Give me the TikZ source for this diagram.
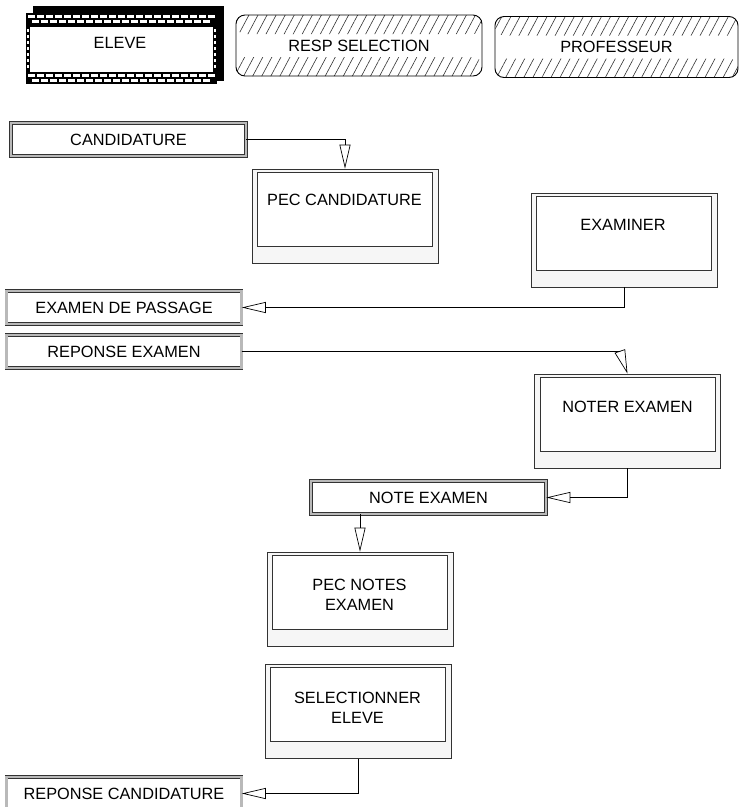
\documentclass[tikz,border=0pt]{standalone}
\usepackage{fontspec}
\setmainfont{Liberation Sans}
\usetikzlibrary{arrows.meta,patterns.meta}

\tikzset{
  flowbox/.style={rectangle, draw=black!80, double=gray!55, double distance=2.4pt,
    line width=0.7pt, fill=white, minimum width=235, minimum height=33, inner sep=0pt},
  procbox/.style={rectangle, draw=black!80, fill=gray!7, line width=0.6pt,
    minimum width=186, minimum height=94, inner sep=0pt},
  hatchband/.style={pattern={Lines[angle=62,distance=8pt,line width=0.6pt]}, pattern color=black!80},
  actorbox/.style={rectangle, rounded corners=9pt, draw=black, line width=0.9pt,
    minimum height=61, inner sep=0pt,
    path picture={
      \fill[hatchband] (path picture bounding box.north west) rectangle ([yshift=-19pt]path picture bounding box.north east);
      \fill[hatchband] ([yshift=19pt]path picture bounding box.south west) rectangle (path picture bounding box.south east);
    }},
  flowarr/.style={-{Triangle[open,length=24pt,width=11pt]}, line width=0.7pt},
}

\begin{document}
\begin{tikzpicture}[x=1pt,y=-1pt,font=\fontsize{16.3}{20}\selectfont]
\useasboundingbox (0,0) rectangle (739,807);

% acteur ELEVE (cadre en briques)
\fill (33,6) rectangle (224,81);
\fill (26,13) rectangle (217,84);
\fill[white] (30,27) rectangle (213,72);
\foreach \x in {28,37,...,208} {
  \fill[white] (\x,15) rectangle +(7,3);
  \fill[white] (\x,74) rectangle +(7,3);
}
\foreach \x in {32,41,...,203} {
  \fill[white] (\x,20) rectangle +(7,3);
  \fill[white] (\x,79) rectangle +(7,3);
}
\foreach \y in {29,35,...,65} {
  \fill[white] (27,\y) rectangle +(2,3);
  \fill[white] (214,\y) rectangle +(2,3);
}
\node (eleve) at (120,43) {ELEVE};

% autres acteurs
\node[actorbox, minimum width=246] (resp) at (359,45.5) {RESP SELECTION};
\node[actorbox, minimum width=243] (prof) at (616.5,47) {PROFESSEUR};

% flux
\node[flowbox] (cand) at (128.5,139.5) {CANDIDATURE};
\node[flowbox] (passage) at (124,307.5) {EXAMEN DE PASSAGE};
\node[flowbox] (repex) at (124,351.5) {REPONSE EXAMEN};
\node[flowbox] (note) at (428.5,497.5) {NOTE EXAMEN};
\node[flowbox] (repc) at (124,793.5) {REPONSE CANDIDATURE};

% traitements
\node[procbox] (pecc) at (345,216) {};
\node[procbox] (exmr) at (624,240) {};
\node[procbox] (noter) at (627.5,421) {};
\node[procbox] (pecn) at (360,599) {};
\node[procbox] (sel) at (358,711.5) {};
\foreach \n in {pecc,exmr,noter,pecn,sel}
  \draw[fill=white, draw=black!80, line width=0.6pt]
    ([shift={(6pt,-3.5pt)}]\n.north west) rectangle ([shift={(-6pt,17.5pt)}]\n.south east);

\node (pecc-t) at (344.5,200) {PEC CANDIDATURE};
\node (exmr-t) at (623,225) {EXAMINER};
\node (noter-t) at (627.5,406.5) {NOTER EXAMEN};
\node[align=center] (pecn-t) at (359.5,595) {PEC NOTES\\EXAMEN};
\node[align=center] (sel-t) at (357.5,707.5) {SELECTIONNER\\ELEVE};

% liaisons
\coordinate (bend) at (620,351.5);
\draw[flowarr] (cand.east) -| (pecc.north);
\draw[flowarr] (exmr.south) |- (passage.east);
\draw[flowarr] (repex.east) -- (bend) -- (noter.north);
\draw[flowarr] (noter.south) |- (note.east);
\draw[flowarr] (pecn.north |- note.south) -- (pecn.north);
\draw[flowarr] (sel.south) |- (repc.east);
\end{tikzpicture}
\end{document}
